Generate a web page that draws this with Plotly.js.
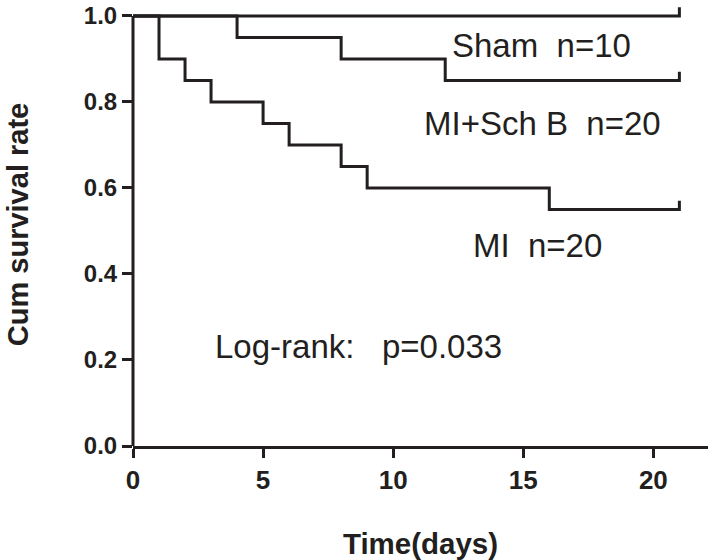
<!DOCTYPE html>
<html>
<head>
<meta charset="utf-8">
<script src="https://cdn.plot.ly/plotly-3.0.1.min.js"></script>
<style>html,body{margin:0;padding:0;background:#fff;}#chart{width:715px;height:560px;}</style>
</head>
<body>
<div id="chart"></div>
<script>
// Kaplan-Meier data (time in days, cumulative survival)
const shamTimes = [0, 21];
const shamSurv = [1.0, 1.0];
const schbTimes = [0, 4, 8, 12, 21];
const schbSurv = [1.0, 0.95, 0.90, 0.85, 0.85];
const miTimes = [0, 1, 2, 3, 5, 6, 8, 9, 16, 21];
const miSurv = [1.0, 0.90, 0.85, 0.80, 0.75, 0.70, 0.65, 0.60, 0.55, 0.55];
const groupLabels = ["Sham\u00a0\u00a0n=10", "MI+Sch B\u00a0\u00a0n=20", "MI\u00a0\u00a0n=20"];
const statText = "Log-rank:\u00a0\u00a0\u00a0p=0.033";
const xTicks = [0, 5, 10, 15, 20];
const yTicks = [0, 0.2, 0.4, 0.6, 0.8, 1.0];

const censorTick = 0.02; // height of censor mark (style)
const ink = '#231f20';
const font = 'Liberation Sans, Arial, sans-serif';

function kmTrace(t, s) {
  const x = t.slice();
  const y = s.slice();
  // censor mark at final time: short vertical tick upward
  x.push(t[t.length - 1]);
  y.push(s[s.length - 1] + censorTick);
  return {x: x, y: y, type: 'scatter', mode: 'lines',
    line: {shape: 'hv', color: ink, width: 3}, hoverinfo: 'skip', showlegend: false};
}

const data = [kmTrace(shamTimes, shamSurv), kmTrace(schbTimes, schbSurv), kmTrace(miTimes, miSurv)];

const layout = {
  width: 715, height: 560,
  margin: {l: 133, r: 7, t: 3, b: 114},
  paper_bgcolor: '#fff', plot_bgcolor: '#fff',
  font: {family: font, color: ink},
  showlegend: false,
  xaxis: {
    range: [0, 22.1], tickvals: xTicks, ticktext: xTicks.map(String),
    showline: true, linewidth: 3, linecolor: ink,
    ticks: 'outside', ticklen: 9, tickwidth: 3, tickcolor: ink,
    showgrid: false, zeroline: false,
    tickfont: {family: font, size: 26, color: ink, weight: 'bold'},
    title: {text: '<b>Time(days)</b>', font: {family: font, size: 29.5, color: ink}, standoff: 40}
  },
  yaxis: {
    range: [0, 1.03], tickvals: yTicks, ticktext: yTicks.map(v => v.toFixed(1)),
    showline: false,
    ticks: 'outside', ticklen: 10, tickwidth: 3, tickcolor: ink,
    showgrid: false, zeroline: false,
    tickfont: {family: font, size: 24, color: ink, weight: 'bold'},
    title: {text: '<b>Cum survival rate</b>', font: {family: font, size: 29, color: ink}, standoff: 46}
  },
  shapes: [
    {type: 'line', xref: 'paper', yref: 'y', x0: 0, x1: 0, y0: yTicks[0], y1: yTicks[yTicks.length - 1],
     line: {color: ink, width: 3}}
  ],
  annotations: [
    {text: groupLabels[0], xref: 'paper', yref: 'paper', x: 0.7096, y: 0.905, showarrow: false, xanchor: 'center', yanchor: 'middle', font: {family: font, size: 33, color: ink}},
    {text: groupLabels[1], xref: 'paper', yref: 'paper', x: 0.713, y: 0.729, showarrow: false, xanchor: 'center', yanchor: 'middle', font: {family: font, size: 33, color: ink}},
    {text: groupLabels[2], xref: 'paper', yref: 'paper', x: 0.704, y: 0.4537, showarrow: false, xanchor: 'center', yanchor: 'middle', font: {family: font, size: 33, color: ink}},
    {text: statText, xref: 'paper', yref: 'paper', x: 0.393, y: 0.2257, showarrow: false, xanchor: 'center', yanchor: 'middle', font: {family: font, size: 33, color: ink}}
  ]
};

Plotly.newPlot('chart', data, layout, {staticPlot: true});
</script>
</body>
</html>
